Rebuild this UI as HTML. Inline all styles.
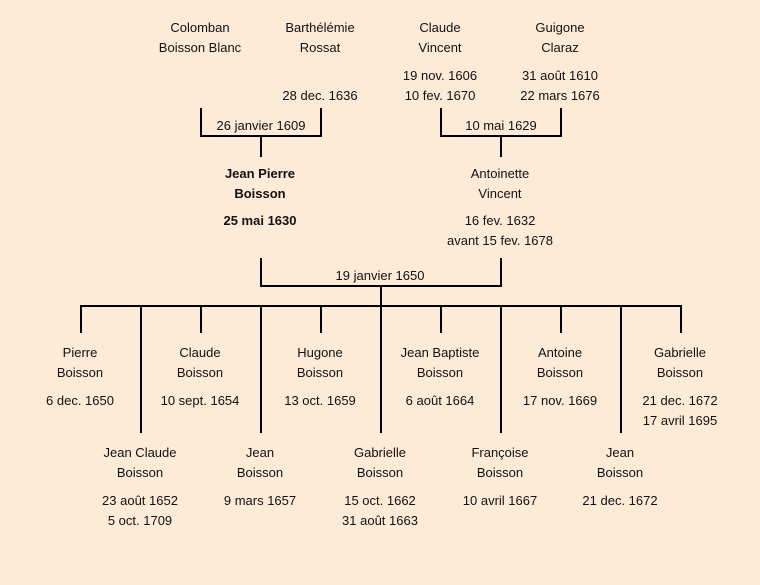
<!DOCTYPE html>
<html><head><meta charset="utf-8"><style>
html,body{margin:0;padding:0;}
body{width:760px;height:585px;background:#fdebd8;position:relative;overflow:hidden;font-family:"Liberation Sans",sans-serif;font-size:13px;color:#111;}
.t{position:absolute;width:180px;text-align:center;line-height:16px;white-space:nowrap;}
.b{font-weight:bold;}
svg{position:absolute;left:0;top:0;}
</style></head><body>
<svg width="760" height="585"><g stroke="#000" stroke-width="2" fill="none">
<polyline points="201,108 201,136 321,136 321,108"/>
<line x1="261" y1="136" x2="261" y2="157"/>
<polyline points="441,108 441,136 561,136 561,108"/>
<line x1="501" y1="136" x2="501" y2="157"/>
<polyline points="261,258 261,286 501,286 501,258"/>
<line x1="381" y1="286" x2="381" y2="306"/>
<line x1="80" y1="306" x2="682" y2="306"/>
<line x1="81" y1="306" x2="81" y2="333"/>
<line x1="201" y1="306" x2="201" y2="333"/>
<line x1="321" y1="306" x2="321" y2="333"/>
<line x1="441" y1="306" x2="441" y2="333"/>
<line x1="561" y1="306" x2="561" y2="333"/>
<line x1="681" y1="306" x2="681" y2="333"/>
<line x1="141" y1="306" x2="141" y2="433"/>
<line x1="261" y1="306" x2="261" y2="433"/>
<line x1="381" y1="306" x2="381" y2="433"/>
<line x1="501" y1="306" x2="501" y2="433"/>
<line x1="621" y1="306" x2="621" y2="433"/>
</g></svg>
<div id="c"></div>
<script>
var d=[
[200,27,"Colomban"],[200,47,"Boisson Blanc"],
[320,27,"Barthélémie"],[320,47,"Rossat"],[320,95,"28 dec. 1636"],
[440,27,"Claude"],[440,47,"Vincent"],[440,75,"19 nov. 1606"],[440,95,"10 fev. 1670"],
[560,27,"Guigone"],[560,47,"Claraz"],[560,75,"31 août 1610"],[560,95,"22 mars 1676"],
[261,125,"26 janvier 1609"],[501,125,"10 mai 1629"],
[260,173,"Jean Pierre",1],[260,193,"Boisson",1],[260,220,"25 mai 1630",1],
[500,173,"Antoinette"],[500,193,"Vincent"],[500,220,"16 fev. 1632"],[500,240,"avant 15 fev. 1678"],
[380,275,"19 janvier 1650"],
[80,352,"Pierre"],[80,372,"Boisson"],[80,400,"6 dec. 1650"],
[200,352,"Claude"],[200,372,"Boisson"],[200,400,"10 sept. 1654"],
[320,352,"Hugone"],[320,372,"Boisson"],[320,400,"13 oct. 1659"],
[440,352,"Jean Baptiste"],[440,372,"Boisson"],[440,400,"6 août 1664"],
[560,352,"Antoine"],[560,372,"Boisson"],[560,400,"17 nov. 1669"],
[680,352,"Gabrielle"],[680,372,"Boisson"],[680,400,"21 dec. 1672"],[680,420,"17 avril 1695"],
[140,452,"Jean Claude"],[140,472,"Boisson"],[140,500,"23 août 1652"],[140,520,"5 oct. 1709"],
[260,452,"Jean"],[260,472,"Boisson"],[260,500,"9 mars 1657"],
[380,452,"Gabrielle"],[380,472,"Boisson"],[380,500,"15 oct. 1662"],[380,520,"31 août 1663"],
[500,452,"Françoise"],[500,472,"Boisson"],[500,500,"10 avril 1667"],
[620,452,"Jean"],[620,472,"Boisson"],[620,500,"21 dec. 1672"]
];
var h="";d.forEach(function(e){h+='<div class="t'+(e[3]?' b':'')+'" style="left:'+(e[0]-90)+'px;top:'+(e[1]-7)+'px">'+e[2]+'</div>';});
document.getElementById("c").innerHTML=h;
</script>
</body></html>
